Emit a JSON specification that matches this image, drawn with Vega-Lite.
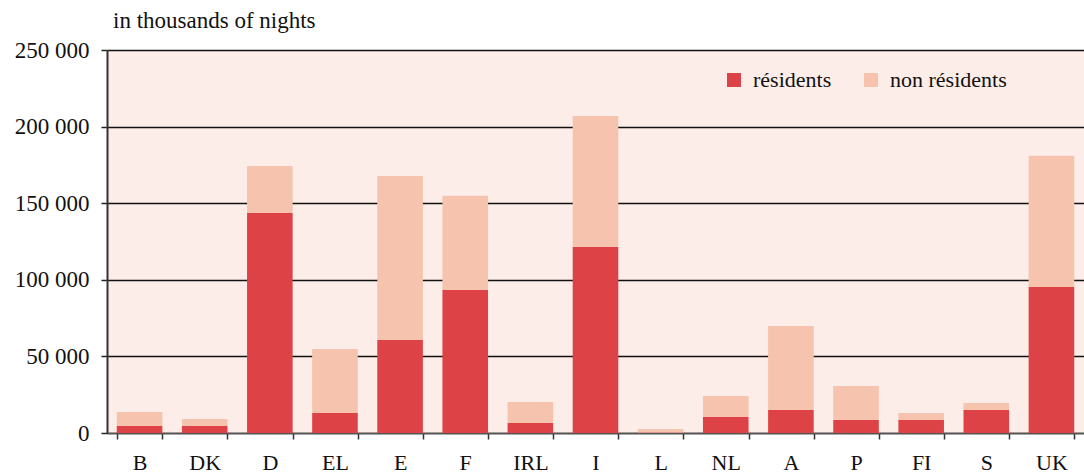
{
  "$schema": "https://vega.github.io/schema/vega-lite/v6.json",
  "autosize": {"type": "none"},
  "padding": {"left": 107, "top": 50, "right": 0, "bottom": 43},
  "width": 977,
  "height": 383,
  "background": "#ffffff",
  "title": {
    "text": "in thousands of nights",
    "anchor": "start",
    "frame": "group",
    "dx": 6,
    "offset": 6,
    "font": "Liberation Serif",
    "fontSize": 23,
    "fontWeight": "normal",
    "color": "#111111"
  },
  "config": {
    "locale": {"number": {"decimal": ",", "thousands": " ", "grouping": [3], "currency": ["", ""]}},
    "view": {"fill": "#fcede8", "stroke": null},
    "font": "Liberation Serif"
  },
  "data": {
    "values": [
      {"country": "B", "group": "résidents", "nights": 4500},
      {"country": "B", "group": "non résidents", "nights": 9200},
      {"country": "DK", "group": "résidents", "nights": 4500},
      {"country": "DK", "group": "non résidents", "nights": 4600},
      {"country": "D", "group": "résidents", "nights": 143600},
      {"country": "D", "group": "non résidents", "nights": 30700},
      {"country": "EL", "group": "résidents", "nights": 13000},
      {"country": "EL", "group": "non résidents", "nights": 41900},
      {"country": "E", "group": "résidents", "nights": 60700},
      {"country": "E", "group": "non résidents", "nights": 107100},
      {"country": "F", "group": "résidents", "nights": 93400},
      {"country": "F", "group": "non résidents", "nights": 61400},
      {"country": "IRL", "group": "résidents", "nights": 6500},
      {"country": "IRL", "group": "non résidents", "nights": 13700},
      {"country": "I", "group": "résidents", "nights": 121500},
      {"country": "I", "group": "non résidents", "nights": 85500},
      {"country": "L", "group": "résidents", "nights": 300},
      {"country": "L", "group": "non résidents", "nights": 2300},
      {"country": "NL", "group": "résidents", "nights": 10400},
      {"country": "NL", "group": "non résidents", "nights": 13800},
      {"country": "A", "group": "résidents", "nights": 15000},
      {"country": "A", "group": "non résidents", "nights": 54900},
      {"country": "P", "group": "résidents", "nights": 8500},
      {"country": "P", "group": "non résidents", "nights": 22200},
      {"country": "FI", "group": "résidents", "nights": 8500},
      {"country": "FI", "group": "non résidents", "nights": 4500},
      {"country": "S", "group": "résidents", "nights": 15000},
      {"country": "S", "group": "non résidents", "nights": 4600},
      {"country": "UK", "group": "résidents", "nights": 95300},
      {"country": "UK", "group": "non résidents", "nights": 85600}
    ]
  },
  "mark": {"type": "bar", "stroke": null},
  "encoding": {
    "x": {
      "field": "country",
      "type": "nominal",
      "sort": null,
      "scale": {"paddingInner": 0.3, "paddingOuter": 0.15},
      "axis": {
        "title": null,
        "labelAngle": 0,
        "labelFont": "Liberation Serif",
        "labelFontSize": 22,
        "labelColor": "#111111",
        "labelPadding": 13,
        "tickBand": "extent",
        "tickSize": 6,
        "tickColor": "#333333",
        "tickWidth": 1.5,
        "domainColor": "#555555",
        "domainWidth": 1.5,
        "grid": false
      }
    },
    "y": {
      "field": "nights",
      "type": "quantitative",
      "stack": "zero",
      "scale": {"domain": [0, 250000], "nice": false},
      "axis": {
        "title": null,
        "values": [0, 50000, 100000, 150000, 200000, 250000],
        "format": ",d",
        "labelFont": "Liberation Serif",
        "labelFontSize": 23,
        "labelColor": "#111111",
        "labelPadding": 12,
        "tickSize": 6,
        "tickColor": "#222222",
        "tickWidth": 1.5,
        "domainColor": "#333333",
        "domainWidth": 2,
        "grid": true,
        "gridColor": "#111111",
        "gridWidth": 1.5
      }
    },
    "color": {
      "field": "group",
      "type": "nominal",
      "scale": {"domain": ["résidents", "non résidents"], "range": ["#dd4246", "#f6c3ae"]},
      "legend": {
        "title": null,
        "orient": "none",
        "legendX": 616,
        "legendY": 19,
        "direction": "horizontal",
        "symbolType": "square",
        "symbolSize": 196,
        "symbolStrokeWidth": 0,
        "symbolOpacity": 1,
        "labelFont": "Liberation Serif",
        "labelFontSize": 22,
        "labelColor": "#111111",
        "labelOffset": 8,
        "columnPadding": 28
      }
    },
    "order": {"field": "group", "sort": "descending"}
  }
}
